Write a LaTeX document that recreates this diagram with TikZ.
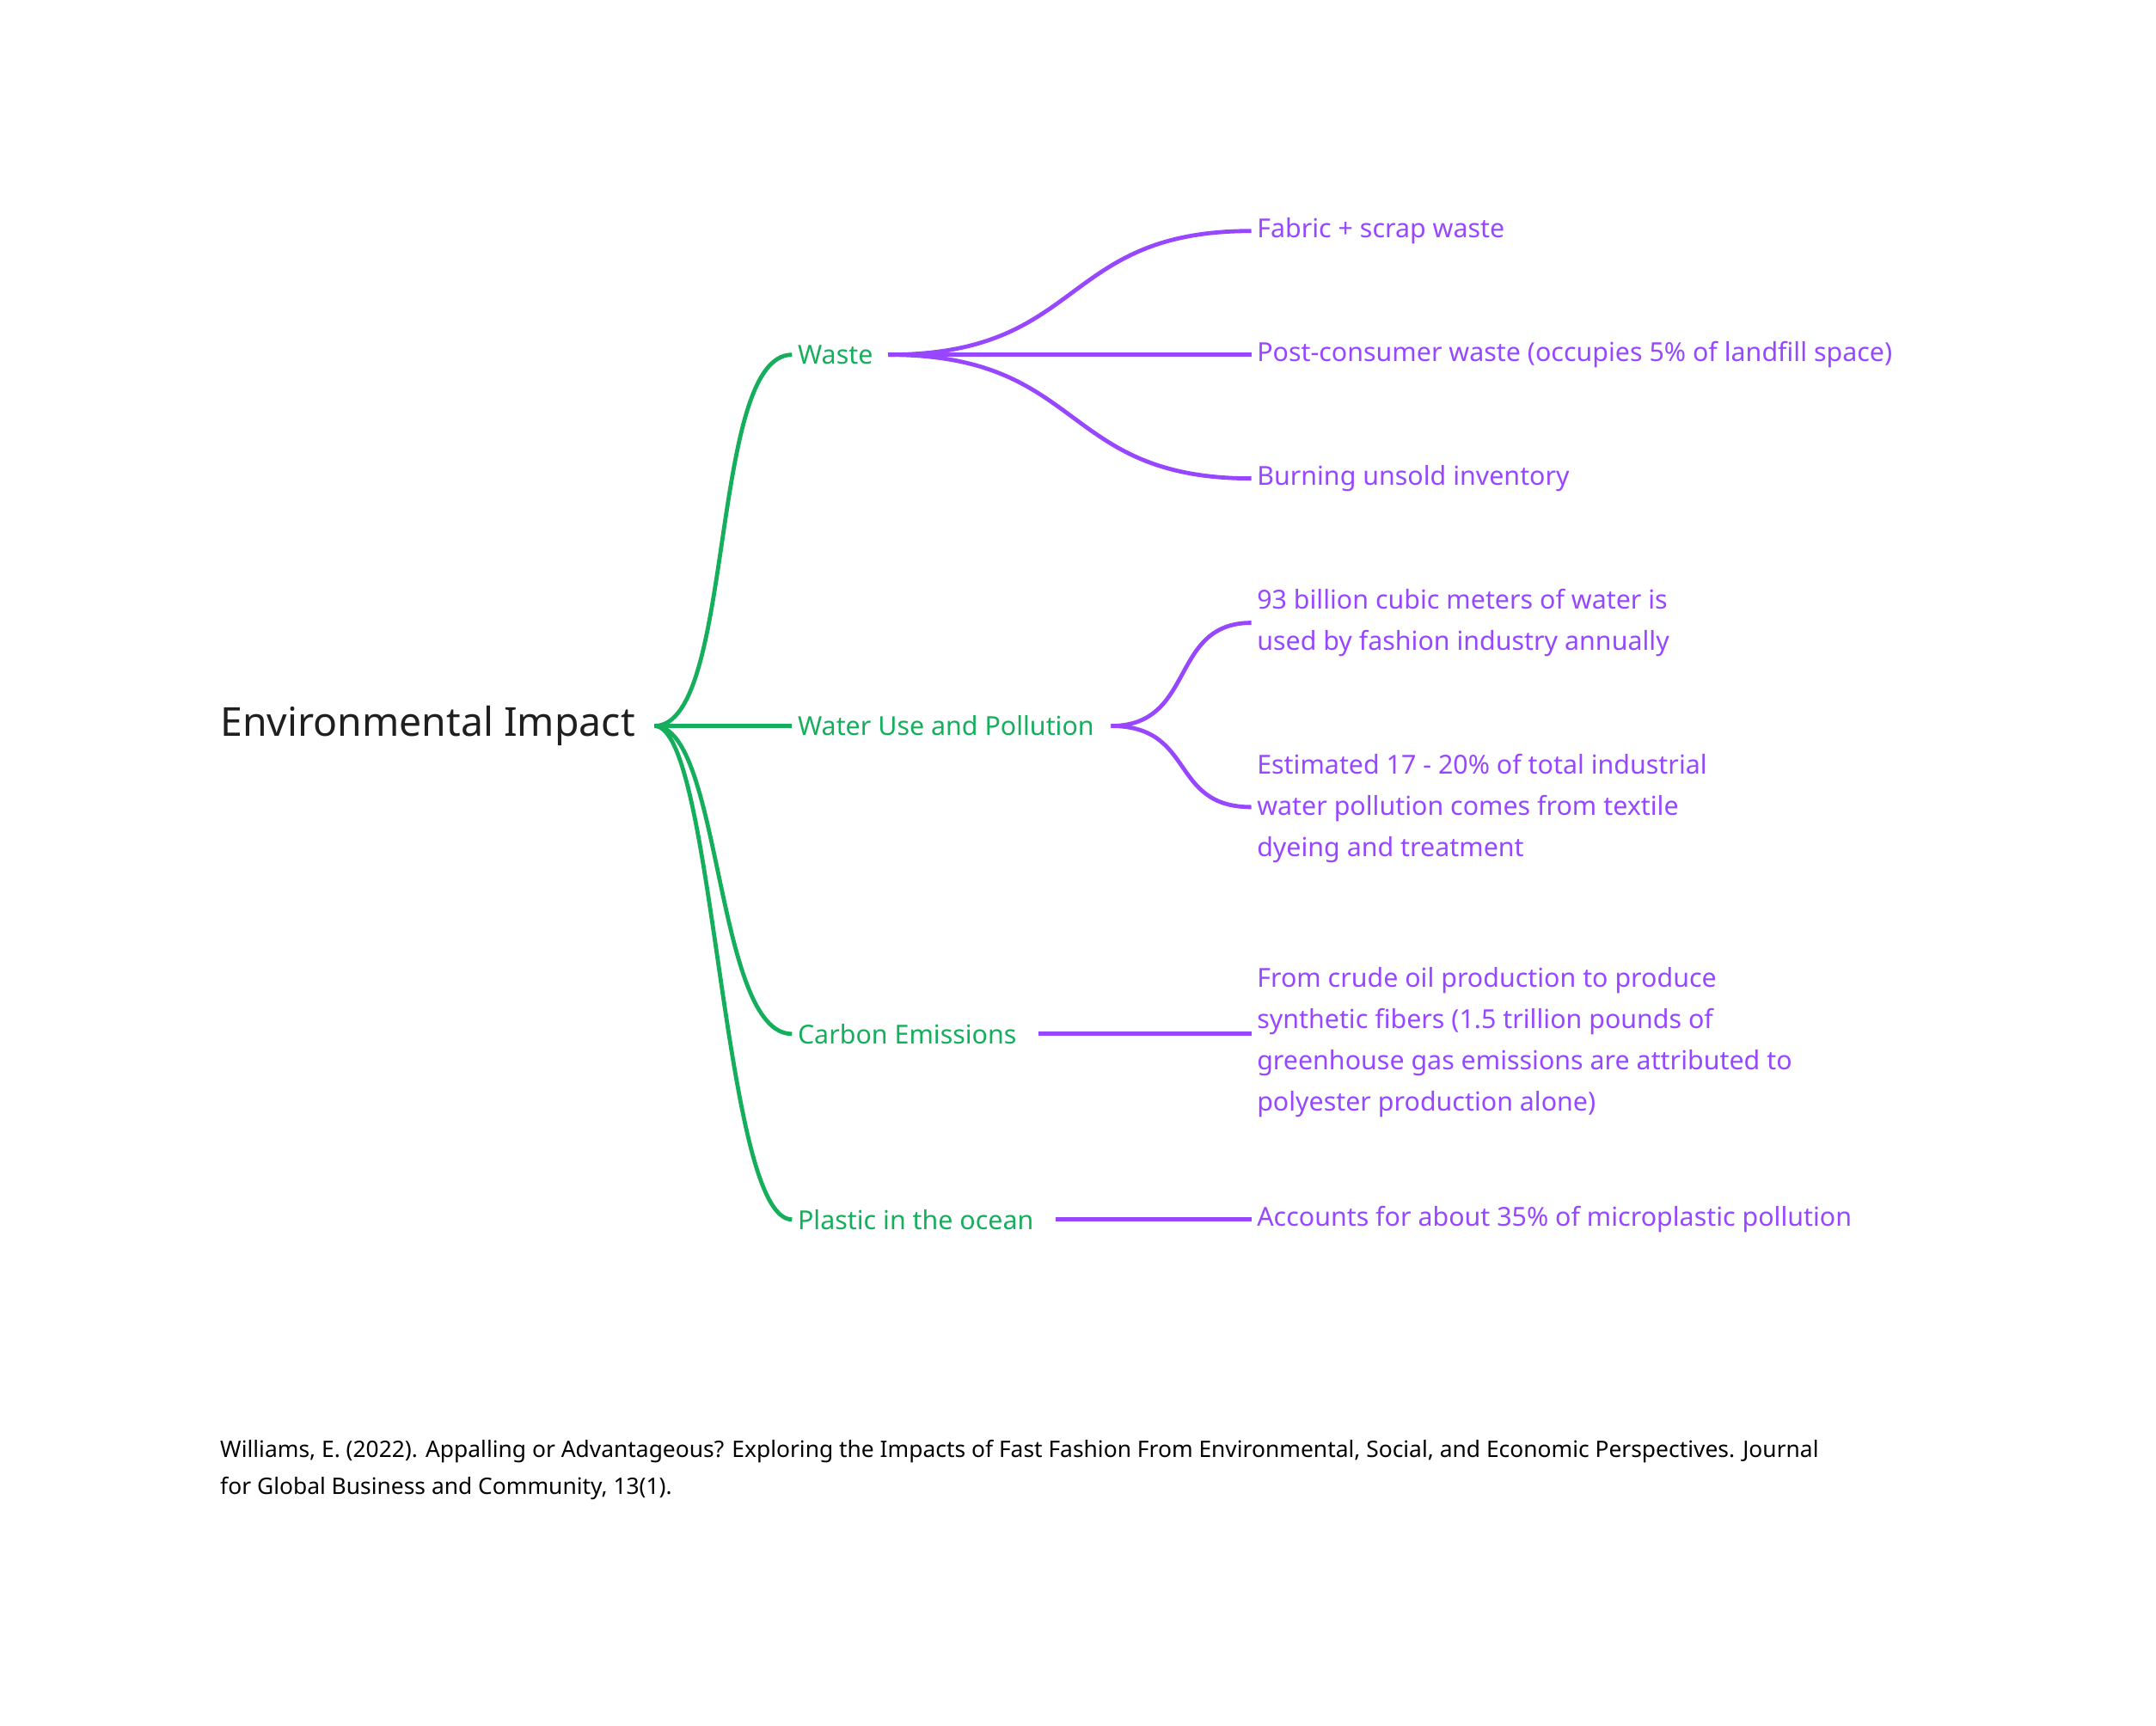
\documentclass[tikz,border=0pt]{standalone}
\usepackage{fontspec}
\setmainfont{Noto Sans}
\definecolor{gr}{HTML}{14AE5C}
\definecolor{pu}{HTML}{9747FF}
\begin{document}
\begin{tikzpicture}[x=1pt,y=-1pt,
  mid/.style={anchor=west,inner sep=0pt,text=gr,font=\fontsize{19}{30}\selectfont},
  leaf/.style={anchor=west,inner sep=0pt,text=pu,font=\fontsize{19}{30}\selectfont,align=left},
  gl/.style={gr,line width=3pt},
  pl/.style={pu,line width=3pt}]
\useasboundingbox (0,0) rectangle (1568,1255);
\node[anchor=west,inner sep=0pt,font=\fontsize{29}{34}\bfseries\selectfont,text=black!88] (root) at (160,528) {Environmental Impact};
\coordinate (hub) at (476,528);
\node[mid] (w) at (580,258) {Waste};
\node[mid] (wa) at (580,528) {Water Use and Pollution};
\node[mid] (c) at (580,752) {Carbon Emissions};
\node[mid] (p) at (580,887) {Plastic in the ocean};
\coordinate (we) at (646,258);
\coordinate (wae) at (808,528);
\coordinate (ce) at (755,752);
\coordinate (pe) at (768,887);
\node[leaf] (l1) at (914,168) {Fabric + scrap waste};
\node[leaf] (l2) at (914,258) {Post-consumer waste (occupies 5\% of landfill space)};
\node[leaf] (l3) at (914,348) {Burning unsold inventory};
\node[leaf] (l4) at (914,453) {93 billion cubic meters of water is\\used by fashion industry annually};
\node[leaf] (l5) at (914,588) {Estimated 17 - 20\% of total industrial\\water pollution comes from textile\\dyeing and treatment};
\node[leaf] (l6) at (914,758) {From crude oil production to produce\\synthetic fibers (1.5 trillion pounds of\\greenhouse gas emissions are attributed to\\polyester production alone)};
\node[leaf] (l7) at (914,887) {Accounts for about 35\% of microplastic pollution};
\node[anchor=north west,inner sep=0pt,align=left,font=\fontsize{16.5}{27}\selectfont] (cit) at (160,1047) {Williams, E. (2022). Appalling or Advantageous? Exploring the Impacts of Fast Fashion From Environmental, Social, and Economic Perspectives. Journal\\for Global Business and Community, 13(1).};
% green
\draw[gl] (hub) .. controls (535,528) and (515,258) .. ([xshift=-4pt]w.west);
\draw[gl] (hub) -- ([xshift=-4pt]wa.west);
\draw[gl] (hub) .. controls (525,528) and (520,752) .. ([xshift=-4pt]c.west);
\draw[gl] (hub) .. controls (520,528) and (525,887) .. ([xshift=-4pt]p.west);
% purple
\draw[pl] (we) .. controls (790,258) and (770,168) .. (910,168);
\draw[pl] (we) -- (910,258);
\draw[pl] (we) .. controls (790,258) and (770,348) .. (910,348);
\draw[pl] (wae) .. controls (870,528) and (850,453) .. (910,453);
\draw[pl] (wae) .. controls (870,528) and (850,587) .. (910,587);
\draw[pl] (ce) -- (910,752);
\draw[pl] (pe) -- (910,887);
\end{tikzpicture}
\end{document}
